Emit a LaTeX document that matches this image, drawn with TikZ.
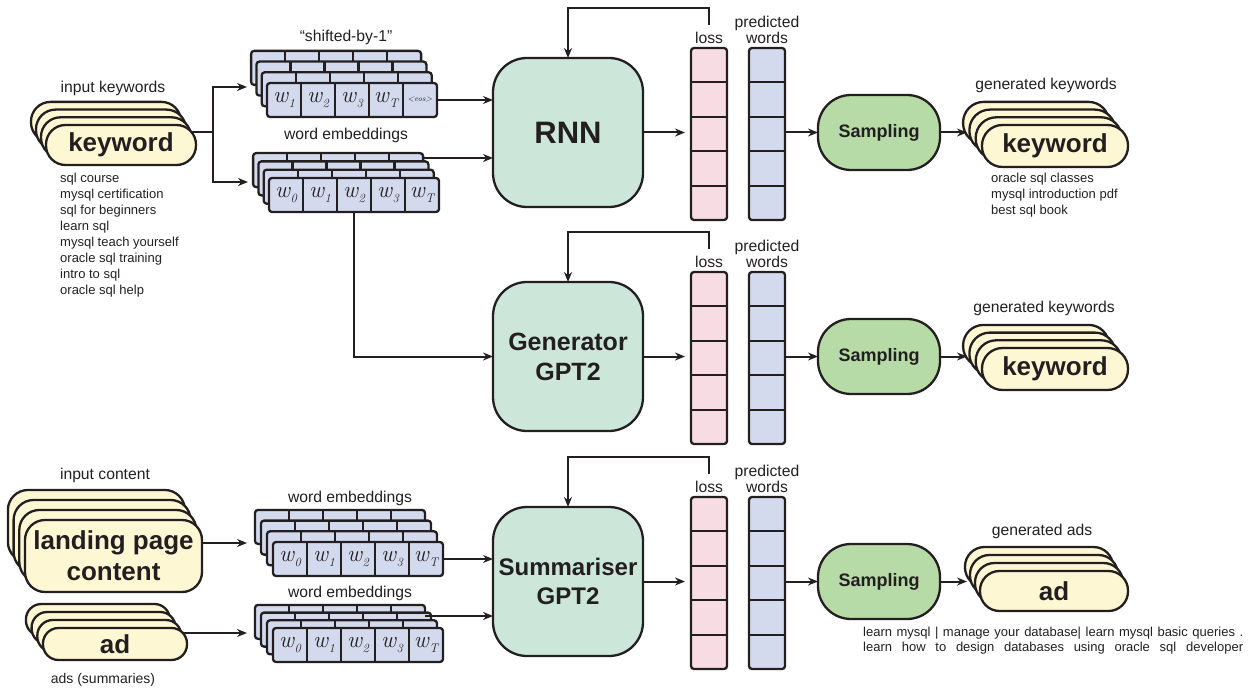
\documentclass[tikz,border=0pt]{standalone}
\usepackage{fontspec}
\setsansfont{Liberation Sans}
\renewcommand{\familydefault}{\sfdefault}
\usetikzlibrary{arrows.meta}
\definecolor{ln}{HTML}{231F20}
\definecolor{pillc}{HTML}{FDF7D3}
\definecolor{lav}{HTML}{D4DAEE}
\definecolor{pinkc}{HTML}{F8DCE3}
\definecolor{mint}{HTML}{CCE6D9}
\definecolor{sampc}{HTML}{B6DBA6}
\newcommand{\fsz}[1]{\fontsize{#1}{#1}\selectfont}
\newcommand{\wsym}[1]{{\rmfamily\itshape\fsz{23}w\kern0.5pt\raisebox{-5pt}{\fsz{12.5}#1}}}
\newcommand{\eos}{{\rmfamily\itshape\fsz{8}<eos>}}
\tikzset{
 shp/.style={draw=ln, line width=2.3pt},
 conn/.style={draw=ln, line width=2pt},
 arr/.style={conn, -{Stealth[length=10pt,width=8pt]}},
 rowbox/.style={shp, fill=lav, rounded corners=3pt, minimum width=170pt, minimum height=34pt, inner sep=0pt, outer sep=0pt},
 cellt/.style={minimum width=34pt, minimum height=34pt, inner sep=0pt, outer sep=0pt, text=ln},
 box/.style={shp, fill=mint, rounded corners=34pt, minimum width=150pt, minimum height=149pt, inner sep=0pt, outer sep=0pt, align=center, text=ln},
 col/.style={shp, rounded corners=3pt, minimum width=36pt, minimum height=172pt, inner sep=0pt, outer sep=0pt},
 samp/.style={shp, fill=sampc, rounded corners=33pt, minimum width=122pt, minimum height=75pt, inner sep=0pt, outer sep=0pt, font=\fsz{18}\bfseries, text=ln},
 lbl/.style={inner sep=0pt, font=\fontsize{15.7}{16}\selectfont, align=center, text=ln},
 lst/.style={inner sep=0pt, anchor=north west, align=left, text=ln},
}
% embedding stack: name, x, y (front top-left), dx, dy, cell list
\newcommand{\embstack}[6]{%
 \foreach \k in {3,2,1}{%
   \node[rowbox, anchor=north west] (#1b\k) at ({#2-\k*#4},{#3-\k*#5}) {};
   \foreach \c in {1,...,4} \draw[shp] ({#2-\k*#4+\c*34},{#3-\k*#5}) -- ++(0,34);
 }%
 \node[rowbox, anchor=north west] (#1) at (#2,#3) {};
 \foreach \c in {1,...,4} \draw[shp] ({#2+\c*34},#3) -- ++(0,34);
 \foreach \cc [count=\i] in {#6} \node[cellt] (#1c\i) at ({#2+\i*34-17},{#3+17}) {\cc};
}
% pill stack: name, x, y, w, h, dx, dy, radius, text
\newcommand{\pillstack}[9]{%
 \foreach \k in {3,2,1} \draw[shp, fill=pillc, rounded corners=#8] ({#2-\k*#6},{#3-\k*#7}) rectangle ++(#4,#5);
 \node[shp, fill=pillc, rounded corners=#8, minimum width=#4pt, minimum height=#5pt, inner sep=0pt, outer sep=0pt, anchor=north west, align=center, text=ln, font=\fontsize{26}{31}\selectfont\bfseries] (#1) at (#2,#3) {#9};
}
% module: name, top, font, text
\newcommand{\module}[4]{%
 \node[box, anchor=north west, font=#3] (#1) at (493,#2) {#4};
 \node[col, fill=pinkc, anchor=north west] (#1loss) at (691,{#2-10}) {};
 \node[col, fill=lav, anchor=north west] (#1pred) at (749,{#2-10}) {};
 \foreach \i in {1,...,4}{%
   \draw[shp] (691,{round(#2-10+\i*34.4)}) -- ++(36,0);
   \draw[shp] (749,{round(#2-10+\i*34.4)}) -- ++(36,0);
 }%
 \node[lbl] (#1ll) at (709,{#2-20}) {loss};
 \node[lbl] (#1pl) at (767,{#2-28}) {predicted\\words};
 \coordinate (#1fa) at (709,{#2-33});
 \coordinate (#1fb) at (709,{#2-50});
 \draw[arr] (#1fa) -- (#1fb) -| (#1.north);
 \draw[arr, shorten >=6pt] (#1.east) -- (#1.east -| #1loss.west);
 \node[samp] (#1s) at (879,{#2+74.5}) {Sampling};
 \draw[arr] (#1s.west -| #1pred.east) -- (#1s.west);
 \coordinate (#1g) at (967,{#2+74.5});
 \draw[arr] (#1s.east) -- (#1g);
}
\begin{document}
\begin{tikzpicture}[x=1pt,y=-1pt]
\useasboundingbox (0,0) rectangle (1253,690);

% modules
\module{rnn}{58}{\fontsize{31}{31}\selectfont\bfseries}{RNN}
\module{gen}{282}{\fontsize{25}{30}\selectfont\bfseries}{Generator\\GPT2}
\module{sum}{507}{\fontsize{24}{29}\selectfont\bfseries}{Summariser\\GPT2}

% input pills
\pillstack{kwin}{46}{125}{150}{40}{5}{7.7}{19.5pt}{keyword}
\pillstack{land}{25}{520}{177}{72}{5.7}{10}{20pt}{landing page\\content}
\pillstack{adin}{43}{628}{144}{32}{5.7}{8}{15.5pt}{ad}

% output pills
\pillstack{kwg1}{982}{125}{146}{42}{6.3}{7.7}{20.5pt}{keyword}
\pillstack{kwg2}{982}{348}{146}{42}{6.3}{7.7}{20.5pt}{keyword}
\pillstack{adg}{980}{571}{148}{40}{5}{8}{19.5pt}{ad}

% embedding stacks
\embstack{sa}{267}{83}{5.3}{10.7}{\wsym{1},\wsym{2},\wsym{3},\wsym{T},\eos}
\embstack{sb}{269}{178}{5.3}{8.3}{\wsym{0},\wsym{1},\wsym{2},\wsym{3},\wsym{T}}
\embstack{sc}{273}{542}{6}{10.7}{\wsym{0},\wsym{1},\wsym{2},\wsym{3},\wsym{T}}
\embstack{sd}{273}{628}{6}{7.7}{\wsym{0},\wsym{1},\wsym{2},\wsym{3},\wsym{T}}

% labels
\node[lbl] (lin) at (113,88) {input keywords};
\node[lbl] (lsh) at (346,37) {“shifted-by-1”};
\node[lbl] (lwe1) at (346,135) {word embeddings};
\node[lbl] (lg1) at (1046,85) {generated keywords};
\node[lbl] (lg2) at (1044,308) {generated keywords};
\node[lbl] (lga) at (1042,531) {generated ads};
\node[lbl] (lic) at (105,475) {input content};
\node[lbl, font=\fsz{14}] (las) at (103,680) {ads (summaries)};
\node[lbl] (lwe3) at (350,498) {word embeddings};
\node[lbl] (lwe4) at (350,593) {word embeddings};

% lists
\node[lst, font=\fontsize{13}{16}\selectfont] (listin) at (60,173) {sql course\\mysql certification\\sql for beginners\\learn sql\\mysql teach yourself\\oracle sql training\\intro to sql\\oracle sql help};
\node[lst, font=\fontsize{13}{16}\selectfont] (listout) at (991,173) {oracle sql classes\\mysql introduction pdf\\best sql book};
\node[lst, font=\fontsize{13}{15}\selectfont] (listad) at (863,627) {\makebox[380pt][s]{learn mysql | manage your database| learn mysql basic queries .}\\\makebox[380pt][s]{learn how to design databases using oracle sql developer}};

% connectors
\coordinate (kwout) at (191,132);
\coordinate (br) at (213,132);
\coordinate (saIn) at (247,87);
\coordinate (sbIn) at (248,182);
\draw[conn] (kwout) -- (br);
\draw[arr] (br) |- (saIn);
\draw[arr] (br) |- (sbIn);
\draw[arr] (sa.east) -- (sa.east -| rnn.west);
\coordinate (sbOut) at (424,158);
\draw[arr] (sbOut) -- (sbOut -| rnn.west);
\draw[arr] (sbc3.south) |- (gen.west);
\coordinate (landOut) at (202,543);
\coordinate (scIn) at (247,543);
\draw[arr] (landOut) -- (scIn);
\coordinate (adOut) at (183,633);
\coordinate (sdIn) at (247,633);
\draw[arr] (adOut) -- (sdIn);
\draw[arr] (sc.east) -- (sc.east -| sum.west);
\coordinate (sdOut) at (425,616);
\draw[arr] (sdOut) -- (sdOut -| sum.west);
\end{tikzpicture}
\end{document}
